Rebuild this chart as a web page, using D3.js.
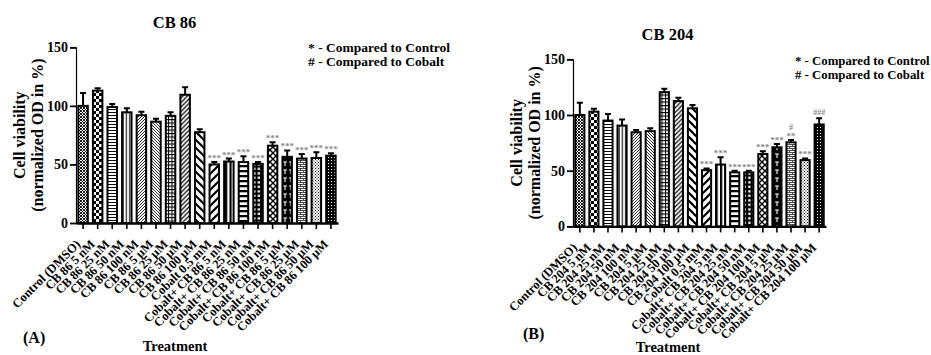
<!DOCTYPE html>
<html>
<head>
<meta charset="utf-8">
<script src="https://cdn.jsdelivr.net/npm/d3@7"></script>
<style>
  body { margin: 0; background: #fff; }
  svg { display: block; }
  text { font-family: "Liberation Serif", "Times New Roman", serif; font-weight: bold; fill: #000; }
</style>
</head>
<body>
<svg id="chart" width="931" height="355"></svg>
<script>
// ---- Data: cell viability (normalized OD, %) with SEM ----
const categoriesA = [
  "Control (DMSO)", "CB 86 5 nM", "CB 86 25 nM", "CB 86 50 nM", "CB 86 100 nM",
  "CB 86 5 µM", "CB 86 25 µM", "CB 86 50 µM", "CB 86 100 µM", "Cobalt 0.5 mM",
  "Cobalt+ CB 86 5 nM", "Cobalt+ CB 86 25 nM", "Cobalt+ CB 86 50 nM", "Cobalt+ CB 86 100 nM",
  "Cobalt+ CB 86 5 µM", "Cobalt+ CB 86 25 µM", "Cobalt+ CB 86 50 µM", "Cobalt+ CB 86 100 µM"
];
const valuesA = [100, 113, 99, 94.5, 92, 86.5, 91.5, 109.5, 77.5, 50, 52.5, 52, 50.5, 66, 56.5, 55, 55.5, 57.5];
const errorsA = [11, 2, 2.5, 3.5, 3, 2.5, 3, 6.5, 2.5, 2, 2.5, 5, 1.5, 3, 5.5, 4, 5, 2];
const starsA  = ["", "", "", "", "", "", "", "", "", "***", "***", "***", "***", "***", "***", "***", "***", "***"];
const hashesA = ["", "", "", "", "", "", "", "", "", "", "", "", "", "", "", "", "", ""];

const categoriesB = [
  "Control (DMSO)", "CB 204 5 nM", "CB 204 25 nM", "CB 204 50 nM", "CB 204 100 nM",
  "CB 204 5 µM", "CB 204 25 µM", "CB 204 50 µM", "CB 204 100 µM", "Cobalt 0.5 mM",
  "Cobalt+ CB 204 5 nM", "Cobalt+ CB 204 25 nM", "Cobalt+ CB 204 50 nM", "Cobalt+ CB 204 100 nM",
  "Cobalt+ CB 204 5 µM", "Cobalt+ CB 204 25 µM", "Cobalt+ CB 204 50 µM", "Cobalt+ CB 204 100 µM"
];
const valuesB = [100, 103, 95, 90.5, 84.5, 85.5, 120.5, 112.5, 106, 50.5, 55.5, 48.5, 48.5, 65, 71, 75.5, 59.5, 91.5];
const errorsB = [11, 2.5, 6, 5.5, 2, 2.5, 3, 3, 3, 1.5, 6.5, 1.5, 1.5, 2.5, 3, 2, 1.5, 5.5];
const starsB  = ["", "", "", "", "", "", "", "", "", "***", "***", "***", "***", "***", "***", "**", "***", ""];
const hashesB = ["", "", "", "", "", "", "", "", "", "", "", "", "", "", "", "#", "", "###"];

const yTicks = [0, 50, 100, 150];
const legendLines = ["* - Compared to Control", "# - Compared to Cobalt"];

const svg = d3.select("#chart");
const defs = svg.append("defs");

// ---- Fill patterns, one per treatment ----
function pat(id, w, h, bg, draw) {
  const p = defs.append("pattern").attr("id", id)
    .attr("patternUnits", "userSpaceOnUse").attr("width", w).attr("height", h);
  p.append("rect").attr("width", w).attr("height", h).attr("fill", bg);
  draw(p);
}
const ln = (p, d, sw, c) => p.append("path").attr("d", d).attr("stroke", c || "#000")
  .attr("stroke-width", sw).attr("fill", "none");
const rc = (p, x, y, w, h, c) => p.append("rect").attr("x", x).attr("y", y)
  .attr("width", w).attr("height", h).attr("fill", c);

pat("p0", 3, 3, "#fff", p => ln(p, "M-1,-1L4,4M4,-1L-1,4", 0.9));
pat("p1", 6, 6, "#fff", p => { rc(p, 0, 0, 3, 3, "#000"); rc(p, 3, 3, 3, 3, "#000"); });
pat("p2", 4, 3, "#fff", p => ln(p, "M0,1.5H4", 1));
pat("p3", 3.2, 4, "#fff", p => ln(p, "M1.6,0V4", 1.1));
pat("p4", 3, 3, "#fff", p => ln(p, "M-1,1L1,-1M0,3L3,0M2,4L4,2", 0.8));
pat("p5", 3, 3, "#fff", p => ln(p, "M-1,2L1,4M0,0L3,3M2,-1L4,1", 0.8));
pat("p6", 3.5, 3.5, "#fff", p => ln(p, "M0,0.5H3.5M0.5,0V3.5", 1));
pat("p7", 4.5, 4.5, "#fff", p => ln(p, "M-1,1L1,-1M0,4.5L4.5,0M3.5,5.5L5.5,3.5", 1.2));
pat("p8", 8, 8, "#fff", p => ln(p, "M-2,6L2,10M0,0L8,8M6,-2L10,2", 2.2));
pat("p9", 8, 8, "#fff", p => ln(p, "M-2,2L2,-2M0,8L8,0M6,10L10,6", 2.2));
pat("p10", 4.5, 4, "#fff", p => rc(p, 0, 0, 2.2, 4, "#000"));
pat("p11", 5, 5, "#fff", p => rc(p, 0, 0, 5, 2.3, "#000"));
pat("p12", 4.5, 4.5, "#000", p => rc(p, 1.2, 1.2, 2.3, 2.3, "#fff"));
pat("p13", 6, 6, "#fff", p => ln(p, "M0,0L6,6M6,0L0,6", 1.4));
pat("p14", 6, 8, "#000", p => ln(p, "M1,2H5M3,2V6", 1.1, "#fff"));
pat("p15", 6, 4, "#fff", p => ln(p, "M0,0.5H6M0,2.5H6M0.5,0.5V2.5M3.5,2.5V4.5", 0.8, "#222"));
pat("p16", 3, 3, "#fff", p => { rc(p, 0, 0, 1, 1, "#000"); rc(p, 1.5, 1.5, 1, 1, "#000"); });
pat("p17", 3, 3, "#000", p => rc(p, 1, 1, 1, 1, "#fff"));
const fills = d3.range(18).map(i => `url(#p${i})`);

// ---- One panel: bar chart with SEM bars and significance marks ----
function panel(o) {
  const g = svg.append("g");
  const x = d3.scaleBand().domain(o.cats).range([o.x0, o.x1]).paddingInner(0.35).paddingOuter(0.16);
  const y = d3.scaleLinear().domain([0, 150]).range([o.yBottom, o.yTop]);

  // bars
  g.selectAll("rect.bar").data(o.vals).join("rect").attr("class", "bar")
    .attr("x", (d, i) => x(o.cats[i]))
    .attr("width", x.bandwidth())
    .attr("y", d => y(d))
    .attr("height", d => y(0) - y(d))
    .attr("fill", (d, i) => fills[i])
    .attr("stroke", "#000").attr("stroke-width", 2);

  // upper error bars
  const cx = i => x(o.cats[i]) + x.bandwidth() / 2;
  g.selectAll("path.err").data(o.vals).join("path").attr("class", "err")
    .attr("d", (d, i) => {
      const top = y(d + o.errs[i]);
      return `M${cx(i)},${y(d)}V${top}M${cx(i) - 3},${top}H${cx(i) + 3}`;
    })
    .attr("stroke", "#000").attr("stroke-width", 2).attr("fill", "none");

  // significance marks
  g.selectAll("text.star").data(o.stars).join("text").attr("class", "star")
    .attr("x", (d, i) => cx(i))
    .attr("y", (d, i) => y(o.vals[i] + o.errs[i]) - 1)
    .attr("text-anchor", "middle").style("font-size", "9px").style("fill", "#8a8a8a")
    .text(d => d);
  g.selectAll("text.hash").data(o.hashes).join("text").attr("class", "hash")
    .attr("x", (d, i) => cx(i))
    .attr("y", (d, i) => y(o.vals[i] + o.errs[i]) - (o.stars[i] ? 10 : 3))
    .attr("text-anchor", "middle").style("font-size", "8px").style("fill", "#8a8a8a")
    .text(d => d);

  // y axis
  const ya = g.append("g").attr("transform", `translate(${o.x0},0)`)
    .call(d3.axisLeft(y).tickValues(yTicks).tickSize(6).tickPadding(2));
  ya.select(".domain").attr("stroke-width", 1.2);
  ya.selectAll(".tick line").attr("stroke-width", 1.8);
  ya.selectAll(".tick text").style("font-size", "14px")
    .style("font-family", "'Liberation Serif', serif").style("font-weight", "bold").attr("fill", "#000");

  // x axis
  const xa = g.append("g").attr("transform", `translate(0,${o.yBottom})`)
    .call(d3.axisBottom(x).tickSize(6).tickSizeOuter(0).tickFormat(""));
  xa.select(".domain").attr("stroke-width", 2.4);
  xa.selectAll(".tick line").attr("stroke-width", 1.6);

  g.selectAll("text.cat").data(o.cats).join("text").attr("class", "cat")
    .attr("transform", d => `translate(${x(d) + x.bandwidth() / 2 - 2},${o.yBottom + 22}) rotate(-45)`)
    .attr("text-anchor", "end").style("font-size", "12.5px")
    .text(d => d);

  // axis titles
  g.append("text")
    .attr("transform", `translate(${o.x0 - 51},${(o.yTop + o.yBottom) / 2}) rotate(-90)`)
    .attr("text-anchor", "middle").style("font-size", "16px").text("Cell viability");
  g.append("text")
    .attr("transform", `translate(${o.x0 - 33},${(o.yTop + o.yBottom) / 2}) rotate(-90)`)
    .attr("text-anchor", "middle").style("font-size", "16px").text("(normalized OD in %)");
  g.append("text").attr("x", o.treatX).attr("y", o.treatY)
    .attr("text-anchor", "middle").style("font-size", "14.5px").text("Treatment");

  // chart title, panel letter, legend
  g.append("text").attr("x", o.titleX).attr("y", o.titleY)
    .attr("text-anchor", "middle").style("font-size", "16.5px").text(o.title);
  g.append("text").attr("x", o.letterX).attr("y", o.letterY)
    .style("font-size", "16px").text(o.letter);
  legendLines.forEach((t, i) => g.append("text")
    .attr("x", o.legX).attr("y", o.legY + i * 13.5)
    .style("font-size", o.legSize).text(t));
}

panel({
  cats: categoriesA, vals: valuesA, errs: errorsA, stars: starsA, hashes: hashesA,
  x0: 76, x1: 338, yBottom: 223, yTop: 47.3,
  title: "CB 86", titleX: 174.5, titleY: 28,
  letter: "(A)", letterX: 23, letterY: 343,
  legX: 308, legY: 52, legSize: "13.5px", treatX: 175, treatY: 351
});
panel({
  cats: categoriesB, vals: valuesB, errs: errorsB, stars: starsB, hashes: hashesB,
  x0: 573, x1: 826, yBottom: 226.4, yTop: 59.3,
  title: "CB 204", titleX: 667.5, titleY: 40,
  letter: "(B)", letterX: 523, letterY: 339,
  legX: 795, legY: 65, legSize: "12.8px", treatX: 668, treatY: 352
});
</script>
</body>
</html>
